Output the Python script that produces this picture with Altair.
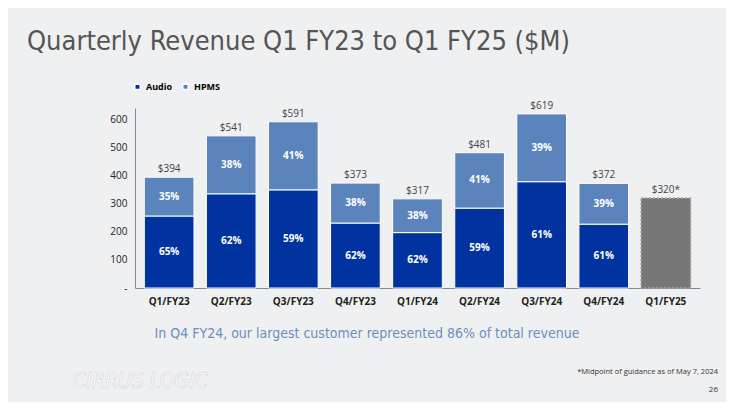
import altair as alt
import pandas as pd

quarters = ["Q1/FY23", "Q2/FY23", "Q3/FY23", "Q4/FY23", "Q1/FY24",
            "Q2/FY24", "Q3/FY24", "Q4/FY24", "Q1/FY25"]
totals = [394, 541, 591, 373, 317, 481, 619, 372]
audio_pct = [65, 62, 59, 62, 62, 59, 61, 61]
hpms_pct = [35, 38, 41, 38, 38, 41, 39, 39]
guidance = 320
y_ticks = [0, 100, 200, 300, 400, 500, 600]

rows = []
for q, t, a, h in zip(quarters, totals, audio_pct, hpms_pct):
    av = round(t * a / 100)
    rows.append({"q": q, "seg": "Audio", "y0": 0, "y1": av, "mid": av / 2, "lab": f"{a}%"})
    rows.append({"q": q, "seg": "HPMS", "y0": av, "y1": t, "mid": (av + t) / 2, "lab": f"{h}%"})
df = pd.DataFrame(rows)
tot_df = pd.DataFrame({"q": quarters, "t": totals + [guidance],
                       "lab": [f"${t}" for t in totals] + [f"${guidance}*"]})
guide_df = pd.DataFrame({"q": [quarters[-1]], "t": [guidance]})

FONT = "Open Sans"
xaxis = alt.Axis(labelAngle=0, labelFontSize=10, labelFontWeight="bold",
                 labelColor="#222", ticks=False, domainColor="#888",
                 labelPadding=8, labelFont=FONT)
xscale = alt.Scale(paddingInner=0.2, paddingOuter=0.15)
yscale = alt.Scale(domain=[0, 640], nice=False)
yaxis = alt.Axis(values=y_ticks, grid=False, ticks=False, domainColor="#888",
                 labelFontSize=10, labelColor="#222", labelFont=FONT, labelPadding=8,
                 labelOverlap=False,
                 labelExpr="datum.value == 0 ? '-' : datum.label")


def X():
    return alt.X("q:N", sort=quarters, title=None, scale=xscale, axis=xaxis)


def Y(f):
    return alt.Y(f, title=None, scale=yscale, axis=yaxis)


bars = alt.Chart(df).mark_bar(stroke="white", strokeWidth=1).encode(
    x=X(), y=Y("y0:Q"), y2="y1:Q",
    color=alt.Color("seg:N", scale=alt.Scale(domain=["Audio", "HPMS"],
                                             range=["#0033a0", "#5b84bd"]),
                    legend=alt.Legend(title=None, orient="none", legendX=-2, legendY=-26,
                                      direction="horizontal", symbolType="square",
                                      symbolSize=30, labelFontSize=9, labelFont=FONT,
                                      labelFontWeight="bold", columnPadding=6)),
)
seg_labels = alt.Chart(df).mark_text(color="white", fontSize=10, fontWeight="bold",
                                     font=FONT).encode(
    x=X(), y=Y("mid:Q"), text="lab:N")
guide = alt.Chart(guide_df).mark_bar(color="#777", stroke="#aaa", strokeDash=[2, 2],
                                     strokeWidth=1.5).encode(
    x=X(), y=Y("t:Q"))
tot_labels = alt.Chart(tot_df).mark_text(dy=-8, fontSize=10, color="#444",
                                         font=FONT).encode(
    x=X(), y=Y("t:Q"), text="lab:N")


def note(txt, x, y, **kw):
    return alt.Chart(pd.DataFrame({"t": [txt]})).mark_text(**kw).encode(
        x=alt.value(x), y=alt.value(y), text="t:N")


title = note("Quarterly Revenue Q1 FY23 to Q1 FY25 ($M)", -108, -66, align="left",
             font="DejaVu Sans Condensed", fontSize=27, color="#555", fontWeight=300)
sub = note("In Q4 FY24, our largest customer represented 86% of total revenue", 232, 226,
           font="DejaVu Sans Condensed", fontSize=14, color="#6a8fbf")
foot = note("*Midpoint of guidance as of May 7, 2024", 583, 264, align="right",
            fontSize=7.5, color="#333", font=FONT)
page = note("26", 583, 282, align="right", fontSize=8, color="#333", font=FONT)
logo = note("CIRRUS LOGIC", -62, 274, align="left", fontSize=21, fontStyle="italic",
            color="#ffffff", font="DejaVu Sans Condensed", stroke="#d0d3d6",
            strokeWidth=0.6)

chart = alt.layer(bars, guide, seg_labels, tot_labels, title, sub, foot, page, logo).properties(
    width=565, height=180,
    autosize=alt.AutoSizeParams(type="none"),
    padding={"left": 127, "top": 100, "right": 26, "bottom": 114},
    background="#eff0f1",
).configure_view(stroke=None)

chart.save("out.html", embed_options={"renderer": "svg", "actions": False})
